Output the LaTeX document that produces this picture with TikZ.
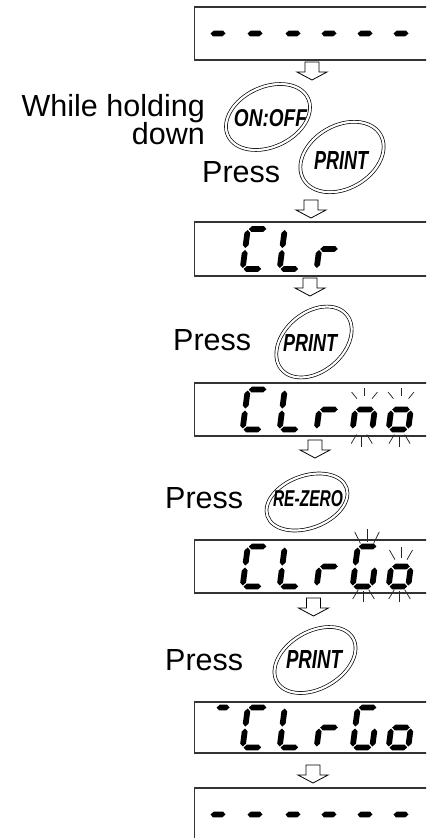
\documentclass[tikz,border=0pt]{standalone}
\usepackage{fontspec}
\setmainfont{Liberation Sans}
% seven-segment pieces (local units: 1pt, y downward)
\newcommand\hsg[3]{\fill[segfill] (#1,#3) -- ({#1+2.9},{#3-2.9}) -- ({#2-2.9},{#3-2.9}) -- (#2,#3) -- ({#2-2.9},{#3+2.9}) -- ({#1+2.9},{#3+2.9}) -- cycle;}
\newcommand\vsg[3]{\fill[segfill] (#1,#2) -- ({#1+2.9},{#2+2.9}) -- ({#1+2.9},{#3-2.9}) -- (#1,#3) -- ({#1-2.9},{#3-2.9}) -- ({#1-2.9},{#2+2.9}) -- cycle;}
\newcommand\sga{\hsg{-8.8}{8.8}{-20}}
\newcommand\sgb{\vsg{9.8}{-19}{-1}}
\newcommand\sgc{\vsg{9.8}{1}{19}}
\newcommand\sgd{\hsg{-8.8}{8.8}{20}}
\newcommand\sge{\vsg{-9.8}{1}{19}}
\newcommand\sgf{\vsg{-9.8}{-19}{-1}}
\newcommand\sgg{\hsg{-8.8}{8.8}{0}}
\newcommand\glC{\sga\sgf\sge\sgd}
\newcommand\glL{\sgf\sge\sgd}
\newcommand\glr{\sge\sgg}
\newcommand\gln{\sge\sgg\sgc}
\newcommand\glo{\sgg\sgc\sgd\sge}
\newcommand\glG{\sga\sgf\sge\sgd\sgc}
\newcommand\gldash{\hsg{-7.5}{7.5}{0}}
\newcommand\glbar{\hsg{-4}{9}{-20}}
\newcommand\dgt[3]{\begin{scope}[shift={(#1,#2)},xslant=0.13]#3\end{scope}}
% blinking rays: x, y (centre), r1, r2, side angle
\newcommand\raysup[5]{\foreach \ang in {-#5,0,#5}{\draw[ray] ({#1+#3*sin(\ang)},{#2-#3*cos(\ang)}) -- ({#1+#4*sin(\ang)},{#2-#4*cos(\ang)});}}
\newcommand\raysdn[5]{\foreach \ang in {-#5,0,#5}{\draw[ray] ({#1+#3*sin(\ang)},{#2+#3*cos(\ang)}) -- ({#1+#4*sin(\ang)},{#2+#4*cos(\ang)});}}
% hollow down arrow: x centre, top y
\newcommand\harr[2]{\draw[hollowarrow] ({#1-7},#2) -- ({#1+7},#2) -- ({#1+7},{#2+10}) -- ({#1+15},{#2+10}) -- (#1,{#2+18}) -- ({#1-15},{#2+10}) -- ({#1-7},{#2+10}) -- cycle;}
\tikzset{
  segfill/.style={fill=black},
  lcdframe/.style={draw=black!80, line width=1.1pt},
  ray/.style={draw=black!85, line width=0.75pt},
  hollowarrow/.style={draw=black, line width=0.8pt, fill=white, line join=miter},
  btn/.style={draw=black, line width=0.7pt, double=white, double distance=2.2pt},
  presstext/.style={font=\fontsize{30.5}{30.5}\selectfont, inner sep=0pt},
  keytext/.style={inner sep=0pt},
}
\begin{document}
\begin{tikzpicture}[x=1pt,y=-1pt]
\useasboundingbox (0,0) rectangle (426,838);
\clip (0,0) rectangle (426,838);
% ---- displays ----
\draw[lcdframe] (194.5,7) rectangle (445,60);
\draw[lcdframe] (194.5,222) rectangle (445,276);
\draw[lcdframe] (194.5,383) rectangle (445,436);
\draw[lcdframe] (194.5,540) rectangle (445,593);
\draw[lcdframe] (194.5,702) rectangle (445,753);
\draw[lcdframe] (194.5,788) rectangle (445,841);
% display 1: dashes
\foreach \px in {218,255,293,329,365,401}{\dgt{\px}{33.5}{\gldash}}
% display 2: CLr
\dgt{255}{249}{\glC}\dgt{292}{249}{\glL}\dgt{329}{249}{\glr}
% display 3: CLrno
\dgt{255}{409.5}{\glC}\dgt{292}{409.5}{\glL}\dgt{329}{409.5}{\glr}\dgt{365}{409.5}{\gln}\dgt{401}{409.5}{\glo}
\raysup{364.5}{408}{12}{20.5}{39}\raysup{401}{408}{12}{20.5}{39}
\raysdn{361.7}{426}{10}{20.5}{31}\raysdn{399.5}{426}{10}{20.5}{31}
% display 4: CLrGo
\dgt{255}{566.5}{\glC}\dgt{292}{566.5}{\glL}\dgt{329}{566.5}{\glr}\dgt{365}{566.5}{\glG}\dgt{401}{566.5}{\glo}
\raysup{367}{557}{15}{28}{26}\raysup{401}{570}{12}{23}{30}
\raysdn{363.5}{581}{10}{21}{31}\raysdn{399.5}{581}{10}{21}{31}
% display 5: -CLrGo
\dgt{218}{727.5}{\glbar}
\dgt{255}{727.5}{\glC}\dgt{292}{727.5}{\glL}\dgt{329}{727.5}{\glr}\dgt{365}{727.5}{\glG}\dgt{401}{727.5}{\glo}
% display 6: dashes
\foreach \px in {218,255,293,329,365,401}{\dgt{\px}{814.5}{\gldash}}
% ---- arrows ----
\harr{312}{62}
\harr{311}{200}
\harr{310}{278}
\harr{315}{440}
\harr{313.5}{598}
\harr{313}{765}
% ---- texts ----
\node[presstext, anchor=base east] (while) at (205,116) {While holding};
\node[presstext, anchor=base east] (down) at (205,144) {down};
\node[presstext, anchor=base west] (press1) at (202,182) {Press};
\node[presstext, anchor=base west] (press2) at (173,350) {Press};
\node[presstext, anchor=base west] (press3) at (165,508) {Press};
\node[presstext, anchor=base west] (press4) at (165,670) {Press};
% ---- keys ----
\draw[btn] (268,117) ellipse [x radius=44.2pt, y radius=30pt, rotate=25];
\node[keytext] (kon) at (270.5,118.5) {\resizebox{73pt}{17pt}{\bfseries\itshape ON:OFF}};
\draw[btn] (342,157) ellipse [x radius=44.5pt, y radius=31.5pt, rotate=30];
\node[keytext] (kp1) at (341,160.5) {\resizebox{54pt}{18pt}{\bfseries\itshape PRINT}};
\draw[btn] (314,342) ellipse [x radius=42.5pt, y radius=29.5pt, rotate=40];
\node[keytext] (kp2) at (310,343) {\resizebox{54pt}{17pt}{\bfseries\itshape PRINT}};
\draw[btn] (307,502) ellipse [x radius=42pt, y radius=26.2pt, rotate=20];
\node[keytext] (krz) at (308,499) {\resizebox{70pt}{16pt}{\bfseries\itshape RE-ZERO}};
\draw[btn] (315,660) ellipse [x radius=43.8pt, y radius=28.5pt, rotate=30];
\node[keytext] (kp3) at (314,659) {\resizebox{56pt}{18pt}{\bfseries\itshape PRINT}};
\end{tikzpicture}
\end{document}
